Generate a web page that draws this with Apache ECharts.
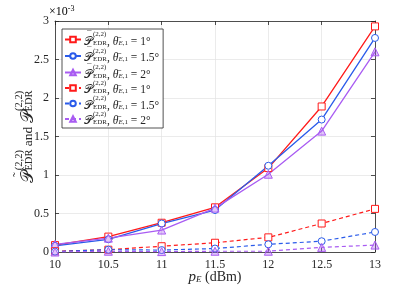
<!DOCTYPE html>
<html><head><meta charset="utf-8">
<script src="https://cdn.jsdelivr.net/npm/echarts@6/dist/echarts.min.js"></script>
<style>html,body{margin:0;padding:0;background:#fff}#c{width:415px;height:288px}</style>
</head><body><div id="c"></div>
<script>
// ---- data (values in units of 1e-3) ----
const xValues = [10, 10.5, 11, 11.5, 12, 12.5, 13];
const xTickLabels = ['10', '10.5', '11', '11.5', '12', '12.5', '13'];
const yTickLabels = ['0', '0.5', '1', '1.5', '2', '2.5', '3'];
const approx_theta1  = [0.09, 0.20, 0.38, 0.58, 1.09, 1.89, 2.93];
const approx_theta15 = [0.08, 0.165, 0.37, 0.545, 1.12, 1.72, 2.78];
const approx_theta2  = [0.10, 0.18, 0.285, 0.57, 1.01, 1.57, 2.60];
const exact_theta1   = [0.01, 0.03, 0.075, 0.12, 0.19, 0.37, 0.56];
const exact_theta15  = [0.005, 0.03, 0.025, 0.045, 0.10, 0.14, 0.26];
const exact_theta2   = [0.0, 0.01, 0.005, 0.01, 0.01, 0.06, 0.09];
const thetaLabels = ['1°', '1.5°', '2°', '1°', '1.5°', '2°'];
const seriesNames = ['a1', 'a15', 'a2', 'b1', 'b15', 'b2'];

const RED = '#ff1a1a', BLUE = '#2a5bea', PURPLE = '#a95cf2';
const SERIF = "'Liberation Serif','DejaVu Serif',serif";
const SCRIPT = "'DejaVu Serif','DejaVu Sans',serif";
const AX = '#262626';

const cv = document.createElement('canvas').getContext('2d');
function tw(txt, font) { cv.font = font; return cv.measureText(txt).width; }

// legend widths
const wPL = tw('𝒫', '12px ' + SCRIPT);
const wEDRL = Math.max(tw('EDR', '7px ' + SERIF), tw('(2,2)', '7px ' + SERIF));
// y-name widths
const wPY = tw('𝒫', '17px ' + SCRIPT);
const wEDRY = Math.max(tw('EDR', '10.5px ' + SERIF), tw('(2,2)', '10.5px ' + SERIF));
const wAnd = tw(' and ', '13.5px ' + SERIF);

function zip(ys) { return xValues.map((x, i) => [x, ys[i]]); }

const chart = echarts.init(document.getElementById('c'), null, {renderer: 'canvas'});

function mk(name, data, color, symbol, dashed, fill) {
  return {
    name, type: 'line', data: zip(data), xAxisIndex: 0, yAxisIndex: 0,
    symbol, symbolSize: symbol === 'triangle' ? 8 : 7,
    showSymbol: true, animation: false,
    lineStyle: {color, width: dashed ? 1.2 : 1.3, type: dashed ? [4, 3] : 'solid'},
    itemStyle: {color: fill, borderColor: color, borderWidth: 1},
    emphasis: {disabled: true}
  };
}

const legendRich = {
  bar: {fontFamily: SERIF, fontSize: 9, width: wPL - 3, padding: [0, 0, 0, 3], lineHeight: 4, color: AX},
  sp: {fontFamily: SERIF, fontSize: 7, width: wPL, lineHeight: 4},
  sup: {fontFamily: SERIF, fontSize: 7, width: wEDRL, lineHeight: 4, color: AX},
  P: {fontFamily: SCRIPT, fontSize: 12, lineHeight: 10, color: AX},
  sub: {fontFamily: SERIF, fontSize: 7, width: wEDRL, lineHeight: 5, verticalAlign: 'bottom', color: AX},
  subi: {fontFamily: SERIF, fontStyle: 'italic', fontSize: 7, lineHeight: 5, verticalAlign: 'bottom', color: AX},
  subn: {fontFamily: SERIF, fontSize: 7, lineHeight: 5, verticalAlign: 'bottom', color: AX},
  t: {fontFamily: SERIF, fontSize: 11.5, lineHeight: 10, color: AX},
  th: {fontFamily: SERIF, fontStyle: 'italic', fontSize: 11.5, lineHeight: 10, color: AX}
};

function legendText(name) {
  const i = seriesNames.indexOf(name);
  const top = i < 3 ? '{bar|¯}{sup|(2,2)}' : '{sp| }{sup|(2,2)}';
  const bot = '{P|𝒫}{sub|EDR}{t|, }{th|θ̄}{subi|E}{subn|,1}{t| = ' + thetaLabels[i] + '}';
  return top + '\n' + bot;
}

const yNameRich = {
  tl: {fontFamily: SERIF, fontSize: 13, width: wPY - 4, padding: [0, 0, 0, 4], lineHeight: 6, color: AX},
  sup: {fontFamily: SERIF, fontSize: 10.5, width: wEDRY, lineHeight: 6, color: AX},
  sp2: {fontFamily: SERIF, fontSize: 10.5, width: wAnd + wPY, lineHeight: 6},
  P: {fontFamily: SCRIPT, fontSize: 17, lineHeight: 13, color: AX},
  sub: {fontFamily: SERIF, fontSize: 10.5, width: wEDRY, lineHeight: 7, verticalAlign: 'bottom', color: AX},
  t: {fontFamily: SERIF, fontSize: 13.5, lineHeight: 13, color: AX}
};
const yName = '{tl|˜}{sup|(2,2)}{sp2| }{sup|(2,2)}\n{P|𝒫}{sub|EDR}{t| and }{P|𝒫}{sub|EDR}';

const option = {
  animation: false,
  backgroundColor: '#fff',
  grid: {left: 55, right: 40, top: 21, bottom: 36, containLabel: false, outerBoundsMode: 'none'},
  legend: {
    orient: 'vertical', left: 62, top: 29, itemGap: -1, itemWidth: 16, itemHeight: 7,
    padding: [1, 4, 1, 2], borderColor: AX, borderWidth: 0.8, backgroundColor: '#fff',
    data: seriesNames, selectedMode: false,
    formatter: legendText,
    textStyle: {rich: legendRich, padding: [0, 0, 0, -2]}
  },
  xAxis: [{
    type: 'value', min: 10, max: 13, interval: 0.5, position: 'bottom',
    axisLine: {show: true, onZero: false, lineStyle: {color: AX, width: 0.8}},
    axisTick: {show: true, inside: true, length: 4, lineStyle: {color: AX, width: 0.8}},
    splitLine: {show: true, lineStyle: {color: '#e3e3e3', width: 0.7}},
    axisLabel: {fontFamily: SERIF, fontSize: 12, color: AX, margin: 7,
      formatter: v => xTickLabels[Math.round((v - 10) / 0.5)]},
    name: '{i|p}{si|E}{t| (dBm)}', nameLocation: 'middle', nameGap: 18, nameMoveOverlap: false,
    nameTextStyle: {rich: {
      i: {fontFamily: SERIF, fontStyle: 'italic', fontSize: 15, lineHeight: 14, color: AX},
      si: {fontFamily: SERIF, fontStyle: 'italic', fontSize: 9, lineHeight: 6, verticalAlign: 'bottom', color: AX},
      t: {fontFamily: SERIF, fontSize: 14, lineHeight: 14, color: AX}
    }}
  }, {
    type: 'value', min: 10, max: 13, interval: 0.5, position: 'top',
    axisLine: {show: true, onZero: false, lineStyle: {color: AX, width: 0.8}},
    axisTick: {show: true, inside: true, length: 4, lineStyle: {color: AX, width: 0.8}},
    splitLine: {show: false}, axisLabel: {show: false}
  }],
  yAxis: [{
    type: 'value', min: 0, max: 3, interval: 0.5, position: 'left',
    axisLine: {show: true, onZero: false, lineStyle: {color: AX, width: 0.8}},
    axisTick: {show: true, inside: true, length: 4, lineStyle: {color: AX, width: 0.8}},
    splitLine: {show: true, lineStyle: {color: '#e3e3e3', width: 0.7}},
    axisLabel: {fontFamily: SERIF, fontSize: 12, color: AX, margin: 6,
      formatter: v => yTickLabels[Math.round(v / 0.5)]},
    name: yName, nameLocation: 'middle', nameGap: 20, nameRotate: 90, nameMoveOverlap: false,
    nameTextStyle: {rich: yNameRich}
  }, {
    type: 'value', min: 0, max: 3, interval: 0.5, position: 'right',
    axisLine: {show: true, onZero: false, lineStyle: {color: AX, width: 0.8}},
    axisTick: {show: true, inside: true, length: 4, lineStyle: {color: AX, width: 0.8}},
    splitLine: {show: false}, axisLabel: {show: false}
  }],
  graphic: [{
    type: 'text', left: 49, top: 5, z: 10,
    style: {
      text: '{a|×10}{b|-3}',
      rich: {
        a: {fontFamily: SERIF, fontSize: 12, lineHeight: 14, color: AX},
        b: {fontFamily: SERIF, fontSize: 8, lineHeight: 8, verticalAlign: 'top', color: AX}
      }
    }
  }],
  series: [
    mk('a1', approx_theta1, RED, 'rect', false, '#fff'),
    mk('a15', approx_theta15, BLUE, 'circle', false, '#fff'),
    mk('a2', approx_theta2, PURPLE, 'triangle', false, 'rgba(169,92,242,0.35)'),
    mk('b1', exact_theta1, RED, 'rect', true, '#fff'),
    mk('b15', exact_theta15, BLUE, 'circle', true, '#fff'),
    mk('b2', exact_theta2, PURPLE, 'triangle', true, 'rgba(169,92,242,0.35)')
  ]
};
chart.setOption(option);
</script>
</body></html>
